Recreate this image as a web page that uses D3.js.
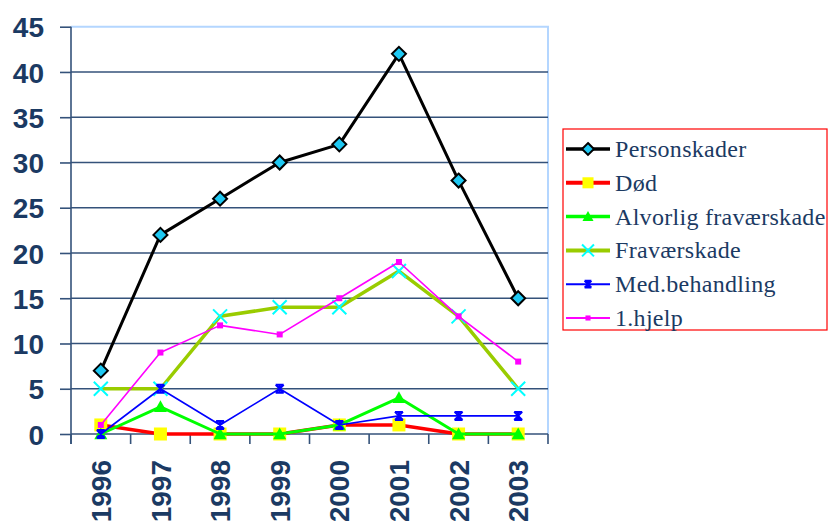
<!DOCTYPE html>
<html><head><meta charset="utf-8">
<script src="https://cdn.jsdelivr.net/npm/d3@7/dist/d3.min.js"></script>
<style>
html,body{margin:0;padding:0;background:#fff;}
svg{display:block;}
</style></head>
<body>
<svg id="c" width="828" height="521"></svg>
<script>
const years = ["1996","1997","1998","1999","2000","2001","2002","2003"];
const yTicks = [0,5,10,15,20,25,30,35,40,45];
const personskader = [7,22,26,30,32,42,28,15];
const dod = [1,0,0,0,1,1,0,0];
const alvorlig = [0,3,0,0,1,4,0,0];
const fravaerskade = [5,5,13,14,14,18,13,5];
const medBehandling = [0,5,1,5,1,2,2,2];
const hjelp = [1,9,12,11,15,19,13,8];
const seriesNames = ["Personskader","Død","Alvorlig fraværskade","Fraværskade","Med.behandling","1.hjelp"];

const series = [
  {name:seriesNames[0], values:personskader, line:"#000000", lw:3, marker:"diamond", fill:"#1ec8f2", stroke:"#000", ms:14},
  {name:seriesNames[1], values:dod, line:"#ff0000", lw:3.5, marker:"square", fill:"#ffff00", stroke:"#ffff00", ms:13},
  {name:seriesNames[2], values:alvorlig, line:"#00ff00", lw:3, marker:"triangle", fill:"#00ff00", stroke:"#00ff00", ms:13},
  {name:seriesNames[3], values:fravaerskade, line:"#99cc00", lw:3.5, marker:"x", fill:"none", stroke:"#00ffff", ms:14},
  {name:seriesNames[4], values:medBehandling, line:"#0000ff", lw:1.6, marker:"star", fill:"#0000ff", stroke:"#0000ff", ms:8},
  {name:seriesNames[5], values:hjelp, line:"#ff00ff", lw:1.6, marker:"smallsq", fill:"#ff00ff", stroke:"#ff00ff", ms:6}
];

const svg = d3.select("#c");
const L = 71, R = 548, T = 26.7, B = 434;
const x = d3.scaleBand().domain(years).range([L, R]);
const y = d3.scaleLinear().domain([0,45]).range([B, T]);
const navy = "#1b3a63";
const gridC = "#34527a";

// plot border (light blue top & right)
svg.append("path").attr("d", `M${L},${T}H${R}V${B}`).attr("fill","none")
  .attr("stroke","#b4d6ff").attr("stroke-width",2);

// gridlines
svg.append("g").selectAll("line").data(yTicks.filter(t=>t>0 && t<45)).join("line")
  .attr("x1", L).attr("x2", R).attr("y1", d=>y(d)).attr("y2", d=>y(d))
  .attr("stroke", gridC).attr("stroke-width", 1.6);

// y axis
const yAxis = d3.axisLeft(y).tickValues(yTicks).tickSize(11).tickSizeOuter(0).tickPadding(16);
const gy = svg.append("g").attr("transform", `translate(${L},0)`).call(yAxis);
gy.select(".domain").remove();
gy.selectAll(".tick line").attr("stroke", gridC).attr("stroke-width", 1.6);
gy.selectAll(".tick text").attr("fill", navy).attr("font-family","Liberation Sans, Arial, sans-serif")
  .attr("font-weight","bold").attr("font-size", 28).attr("dy","0.36em");
svg.append("line").attr("x1",L).attr("x2",L).attr("y1",T).attr("y2",B+10)
  .attr("stroke", gridC).attr("stroke-width",1.6);

// x axis
svg.append("line").attr("x1",L).attr("x2",R).attr("y1",B).attr("y2",B)
  .attr("stroke", gridC).attr("stroke-width",1.6);
const bounds = years.map(d=>x(d)).concat([R]);
svg.append("g").selectAll("line").data(bounds).join("line")
  .attr("x1", d=>d).attr("x2", d=>d).attr("y1", B).attr("y2", B+10)
  .attr("stroke", gridC).attr("stroke-width",1.6);
const xAxis = d3.axisBottom(x).tickSize(0).tickPadding(0);
const gx = svg.append("g").attr("transform", `translate(0,${B})`).call(xAxis);
gx.select(".domain").remove();
gx.selectAll(".tick text")
  .attr("transform","translate(0,26) rotate(-90)")
  .attr("y",0).attr("x",0).attr("dy","0.36em")
  .attr("text-anchor","end")
  .attr("fill", navy).attr("font-family","Liberation Sans, Arial, sans-serif")
  .attr("font-weight","bold").attr("font-size", 28);

function drawMarker(g, s, cx, cy, size) {
  const h = size/2;
  if (s.marker==="diamond") {
    g.append("path").attr("d", `M${cx},${cy-h}L${cx+h},${cy}L${cx},${cy+h}L${cx-h},${cy}Z`)
      .attr("fill", s.fill).attr("stroke", s.stroke).attr("stroke-width",2);
  } else if (s.marker==="square") {
    g.append("rect").attr("x",cx-h).attr("y",cy-h).attr("width",size).attr("height",size)
      .attr("fill", s.fill);
  } else if (s.marker==="triangle") {
    g.append("path").attr("d", `M${cx},${cy-h}L${cx+h},${cy+h*0.8}L${cx-h},${cy+h*0.8}Z`)
      .attr("fill", s.fill);
  } else if (s.marker==="x") {
    g.append("path").attr("d", `M${cx-h},${cy-h}L${cx+h},${cy+h}M${cx-h},${cy+h}L${cx+h},${cy-h}`)
      .attr("stroke", s.stroke).attr("stroke-width",2).attr("fill","none");
  } else if (s.marker==="star") {
    g.append("path").attr("d", `M${cx-h},${cy-h}L${cx+h},${cy+h}M${cx-h},${cy+h}L${cx+h},${cy-h}M${cx},${cy-h}V${cy+h}M${cx-h},${cy-h}H${cx+h}M${cx-h},${cy+h}H${cx+h}`)
      .attr("stroke", s.stroke).attr("stroke-width",2).attr("fill","none");
  } else if (s.marker==="smallsq") {
    g.append("rect").attr("x",cx-h).attr("y",cy-h).attr("width",size).attr("height",size)
      .attr("fill", s.fill);
  }
}

const line = d3.line().x((d,i)=>x(years[i]) + x.bandwidth()/2).y(d=>y(d));
series.forEach(s=>{
  const g = svg.append("g");
  g.append("path").attr("d", line(s.values)).attr("fill","none")
    .attr("stroke", s.line).attr("stroke-width", s.lw).attr("stroke-linejoin","round");
  s.values.forEach((v,i)=>drawMarker(g, s, x(years[i]) + x.bandwidth()/2, y(v), s.ms));
});

// legend
const lg = svg.append("g");
lg.append("rect").attr("x",563).attr("y",129).attr("width",264).attr("height",201)
  .attr("fill","#fff").attr("stroke","#ff0000").attr("stroke-width",1.2);
const ly = d3.scalePoint().domain(seriesNames).range([149, 318]);
series.forEach(s=>{
  const yy = ly(s.name);
  lg.append("line").attr("x1",566).attr("x2",610).attr("y1",yy).attr("y2",yy)
    .attr("stroke", s.line).attr("stroke-width", s.lw+0.5);
  drawMarker(lg, s, 588, yy, s.ms*0.85);
  lg.append("text").attr("x",615).attr("y",yy).attr("dy","0.33em")
    .attr("font-family","Liberation Serif, Times New Roman, serif").attr("font-size",24)
    .attr("letter-spacing","0.3px")
    .attr("fill", navy).text(s.name);
});
</script>
</body></html>
